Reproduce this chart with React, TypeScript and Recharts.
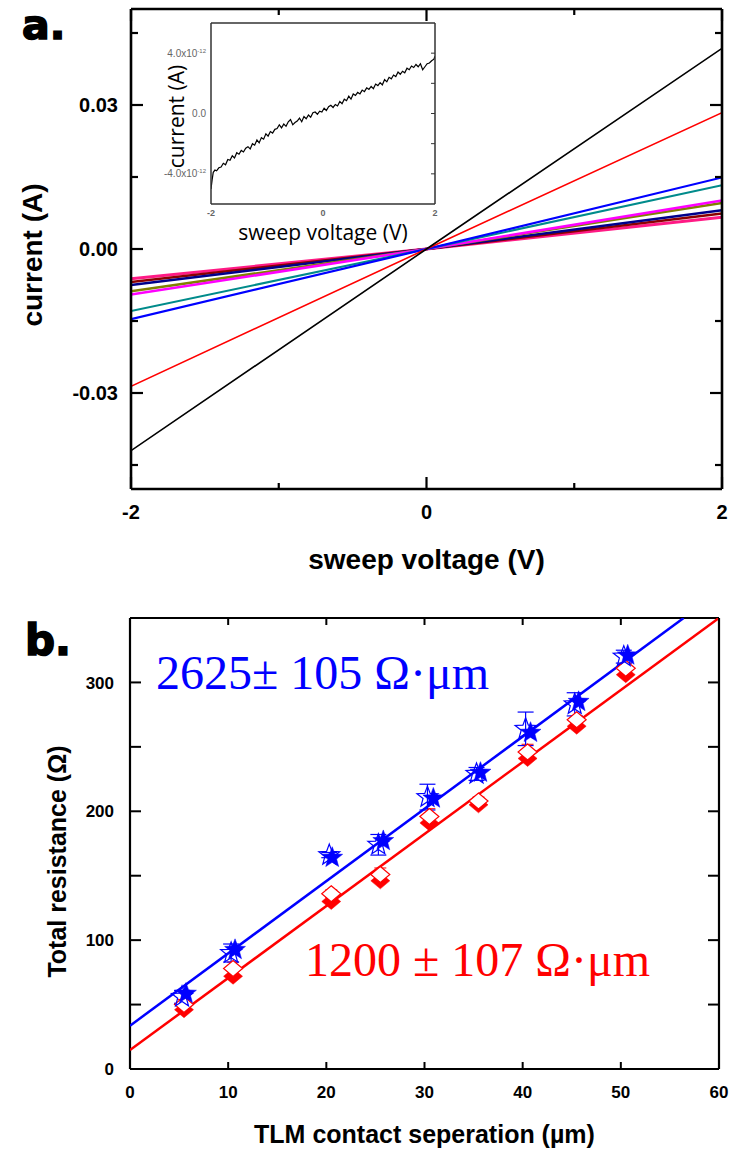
import React from "react";
import {
  LineChart,
  Line,
  XAxis,
  YAxis,
  CartesianGrid,
  ScatterChart,
  Scatter,
  ErrorBar,
  Label,
} from "recharts";

// ---------- panel a: I-V sweeps, current (A) at -2 / 0 / +2 V ----------
const sweepV = [-2, 0, 2];
const ivPink = [-0.0062, 0, 0.0066];
const ivMaroon = [-0.0069, 0, 0.0074];
const ivNavy = [-0.0075, 0, 0.0081];
const ivOlive = [-0.0088, 0, 0.0096];
const ivMagenta = [-0.0095, 0, 0.0101];
const ivTeal = [-0.0129, 0, 0.0133];
const ivBlue = [-0.0146, 0, 0.0149];
const ivRed = [-0.0286, 0, 0.0284];
const ivBlack = [-0.042, 0, 0.0418];

const ivXTicks = [-2, -1, 0, 1, 2];
const ivXLabels = [-2, 0, 2];
const ivYTicks = [-0.045, -0.03, -0.015, 0, 0.015, 0.03, 0.045];
const ivYLabels = [-0.03, 0, 0.03];

// ---------- inset: noisy low-current sweep, current in units of 1e-12 A ----------
const insetV = [
  -2.0, -1.98, -1.96, -1.93, -1.9, -1.86, -1.82, -1.78, -1.74, -1.7, -1.66, -1.62,
  -1.58, -1.54, -1.5, -1.46, -1.42, -1.38, -1.34, -1.3, -1.26, -1.22, -1.18, -1.14,
  -1.1, -1.06, -1.02, -0.98, -0.94, -0.9, -0.86, -0.82, -0.78, -0.74, -0.7, -0.66,
  -0.62, -0.58, -0.54, -0.5, -0.46, -0.42, -0.38, -0.34, -0.3, -0.26, -0.22, -0.18,
  -0.14, -0.1, -0.06, -0.02, 0.02, 0.06, 0.1, 0.14, 0.18, 0.22, 0.26, 0.3, 0.34,
  0.38, 0.42, 0.46, 0.5, 0.54, 0.58, 0.62, 0.66, 0.7, 0.74, 0.78, 0.82, 0.86, 0.9,
  0.94, 0.98, 1.02, 1.06, 1.1, 1.14, 1.18, 1.22, 1.26, 1.3, 1.34, 1.38, 1.42, 1.46,
  1.5, 1.54, 1.58, 1.62, 1.66, 1.7, 1.74, 1.78, 1.82, 1.86, 1.9, 1.94, 1.98, 2.0,
];
const insetI = [
  -5.0, -4.4, -3.9, -3.75, -3.8, -3.6, -3.55, -3.3, -3.4, -3.05, -3.1, -2.8,
  -2.95, -2.6, -2.7, -2.45, -2.55, -2.3, -2.2, -2.35, -2.0, -2.1, -1.75, -1.95,
  -1.6, -1.7, -1.35, -1.5, -1.2, -1.3, -1.05, -1.0, -0.75, -0.95, -0.7, -0.85,
  -0.55, -0.4, -0.75, -0.6, -0.5, -0.3, -0.55, -0.2, -0.35, -0.1, -0.25, 0.05,
  0.1, -0.05, 0.15, 0.1, 0.35, 0.2, 0.45, 0.55, 0.4, 0.6, 0.5, 0.8, 0.65,
  0.95, 0.85, 1.15, 0.95, 1.3, 1.2, 1.4, 1.3, 1.55, 1.45, 1.7, 1.6, 1.8, 1.65,
  1.95, 1.85, 2.05, 1.9, 2.25, 2.1, 2.4, 2.3, 2.55, 2.45, 2.75, 2.6, 2.8, 2.7,
  3.0, 2.9, 3.15, 3.05, 3.25, 3.1, 3.3, 2.9, 3.1, 3.3, 3.35, 3.5, 3.6, 3.8,
];
const insetXTicks = [-2, 0, 2];
const insetYTicks = [-4, -2, 0, 2, 4];
const insetYLabels = [-4, 0, 4];

// ---------- panel b: TLM total resistance (ohm) vs contact separation (um) ----------
const starHollowX = [5.3, 10.3, 20.3, 25.3, 30.3, 35.3, 40.3, 45.3, 50.3];
const starHollowR = [56, 90, 166, 174, 211, 229, 264, 283, 320];
const starHollowErr = [5, 7, 2, 8, 10, 5, 13, 9, 5];
const starFilledX = [5.7, 10.7, 20.6, 25.8, 30.9, 35.7, 40.8, 45.7, 50.7];
const starFilledR = [58.5, 92.5, 164, 177, 210, 230, 261, 285, 321];

const diamondX = [5.5, 10.5, 20.5, 25.5, 30.5, 35.5, 40.5, 45.5, 50.5];
const diamondFilledR = [46, 72, 130, 146, 191, 205, 241, 266, 306];
const diamondHollowR = [50, 78, 136, 151, 196, 208, 246, 271, 311];
const diamondHollowErr = [4, 5, 3, 5, 6, 3, 6, 3, 4];

const blueFitX = [0, 56.4];
const blueFitR = [33.6, 350];
const redFitX = [0, 60];
const redFitR = [14.7, 350];

const tlmXTicks = [0, 10, 20, 30, 40, 50, 60];
const tlmYTicks = [0, 50, 100, 150, 200, 250, 300];
const tlmYLabels = [0, 100, 200, 300];

const ivSeries = [
  { key: "pink", values: ivPink, color: "#ff1a85", width: 3 },
  { key: "maroon", values: ivMaroon, color: "#8b0000", width: 2.5 },
  { key: "navy", values: ivNavy, color: "#00008b", width: 2.5 },
  { key: "olive", values: ivOlive, color: "#808000", width: 2.5 },
  { key: "magenta", values: ivMagenta, color: "#ff00ff", width: 2.5 },
  { key: "teal", values: ivTeal, color: "#008b8b", width: 2 },
  { key: "blue", values: ivBlue, color: "#0000ff", width: 2.2 },
  { key: "red", values: ivRed, color: "#ff0000", width: 1.6 },
  { key: "black", values: ivBlack, color: "#000000", width: 1.6 },
];

const ivRows = sweepV.map((v, i) => {
  const row: Record<string, number> = { v };
  ivSeries.forEach((s) => (row[s.key] = s.values[i]));
  return row;
});
const insetRows = insetV.map((v, i) => ({ v, i: insetI[i] }));
const toPoints = (xs: number[], ys: number[], errs?: number[]) =>
  xs.map((x, i) => ({ x, y: ys[i], err: errs ? errs[i] : 0 }));

const SANS = "'Liberation Sans', Arial, sans-serif";
const SERIF = "'Liberation Serif', 'Times New Roman', serif";

type Side = "left" | "right" | "top" | "bottom";

interface EdgeTickProps {
  x?: number;
  y?: number;
  payload?: { value: number };
  side: Side;
  majors: number[];
  labels?: number[];
  long: number;
  short: number;
  gap?: number;
  labelSize?: number;
  labelWeight?: string | number;
  labelFont?: string;
  labelFill?: string;
  markColor?: string;
  markWidth?: number;
  format?: (v: number) => React.ReactNode;
}

// tick marks pointing into the plot, labels outside
function EdgeTick({
  x = 0,
  y = 0,
  payload,
  side,
  majors,
  labels = [],
  long,
  short,
  gap = 8,
  labelSize = 18,
  labelWeight = "bold",
  labelFont = SANS,
  labelFill = "#000",
  markColor = "#000",
  markWidth = 2,
  format,
}: EdgeTickProps) {
  const v = payload ? payload.value : 0;
  const inList = (list: number[]) => list.some((m) => Math.abs(m - v) < 1e-9);
  const len = inList(majors) ? long : short;
  const showLabel = format && inList(labels);

  let x2 = x;
  let y2 = y;
  if (side === "bottom") y2 = y - len;
  if (side === "top") y2 = y + len;
  if (side === "left") x2 = x + len;
  if (side === "right") x2 = x - len;

  let label = null;
  if (showLabel && side === "bottom") {
    label = (
      <text x={x} y={y + gap} textAnchor="middle" fontSize={labelSize} fontWeight={labelWeight} fontFamily={labelFont} fill={labelFill} stroke="none">
        {format!(v)}
      </text>
    );
  }
  if (showLabel && side === "left") {
    label = (
      <text x={x - gap} y={y + labelSize * 0.36} textAnchor="end" fontSize={labelSize} fontWeight={labelWeight} fontFamily={labelFont} fill={labelFill} stroke="none">
        {format!(v)}
      </text>
    );
  }

  return (
    <g>
      {len > 0 && <line x1={x} y1={y} x2={x2} y2={y2} stroke={markColor} strokeWidth={markWidth} />}
      {label}
    </g>
  );
}

function StarMark({ cx = 0, cy = 0, filled }: { cx?: number; cy?: number; filled: boolean }) {
  const pts: string[] = [];
  for (let k = 0; k < 10; k++) {
    const r = k % 2 === 0 ? 11 : 4.6;
    const a = -Math.PI / 2 + (k * Math.PI) / 5;
    pts.push(`${cx + r * Math.cos(a)},${cy + r * Math.sin(a)}`);
  }
  return (
    <polygon
      points={pts.join(" ")}
      fill={filled ? "#0000ff" : "none"}
      stroke="#0000ff"
      strokeWidth={filled ? 0.5 : 1.2}
    />
  );
}

function DiamondMark({ cx = 0, cy = 0, filled }: { cx?: number; cy?: number; filled: boolean }) {
  const w = 9.5;
  const h = 8;
  return (
    <polygon
      points={`${cx},${cy - h} ${cx + w},${cy} ${cx},${cy + h} ${cx - w},${cy}`}
      fill={filled ? "#ff0000" : "#ffffff"}
      stroke="#ff0000"
      strokeWidth={filled ? 0.5 : 1.2}
    />
  );
}

function IVPanel() {
  const frame = { stroke: "#000", strokeWidth: 2.6 };
  const fmtX = (v: number) => String(v);
  const fmtY = (v: number) => v.toFixed(2);
  return (
    <LineChart width={730} height={600} data={ivRows} margin={{ top: 0, right: 0, bottom: 0, left: 0 }}>
      <XAxis
        xAxisId="top"
        orientation="top"
        type="number"
        dataKey="v"
        domain={[-2, 2]}
        allowDataOverflow
        ticks={ivXTicks}
        interval={0}
        height={9}
        tickSize={0}
        tickMargin={0}
        axisLine={frame}
        tickLine={false}
        tick={(p: any) => <EdgeTick {...p} side="top" majors={ivXLabels} long={12} short={6} markWidth={2.2} />}
      />
      <XAxis
        type="number"
        dataKey="v"
        domain={[-2, 2]}
        allowDataOverflow
        ticks={ivXTicks}
        interval={0}
        height={111}
        tickSize={0}
        tickMargin={0}
        axisLine={frame}
        tickLine={false}
        tick={(p: any) => (
          <EdgeTick
            {...p}
            side="bottom"
            majors={ivXLabels}
            labels={ivXLabels}
            long={12}
            short={6}
            markWidth={2.2}
            gap={30}
            labelSize={20}
            format={fmtX}
          />
        )}
      >
        <Label value="sweep voltage (V)" position="center" dy={15} fontSize={28} fontWeight="bold" fontFamily={SANS} fill="#000" />
      </XAxis>
      <YAxis
        type="number"
        domain={[-0.05, 0.05]}
        allowDataOverflow
        ticks={ivYTicks}
        interval={0}
        width={131}
        tickSize={0}
        tickMargin={0}
        axisLine={frame}
        tickLine={false}
        tick={(p: any) => (
          <EdgeTick
            {...p}
            side="left"
            majors={ivYLabels}
            labels={ivYLabels}
            long={12}
            short={7}
            markWidth={2.2}
            gap={13}
            labelSize={20}
            format={fmtY}
          />
        )}
      >
        <Label value="current (A)" angle={-90} position="center" dx={-33} dy={6} fontSize={28} fontWeight="bold" fontFamily={SANS} fill="#000" />
      </YAxis>
      <YAxis
        yAxisId="right"
        orientation="right"
        type="number"
        domain={[-0.05, 0.05]}
        allowDataOverflow
        ticks={ivYTicks}
        interval={0}
        width={8}
        tickSize={0}
        tickMargin={0}
        axisLine={frame}
        tickLine={false}
        tick={(p: any) => <EdgeTick {...p} side="right" majors={ivYLabels} long={12} short={7} markWidth={2.2} />}
      />
      {ivSeries.map((s) => (
        <Line
          key={s.key}
          type="linear"
          dataKey={s.key}
          stroke={s.color}
          strokeWidth={s.width}
          dot={false}
          activeDot={false}
          isAnimationActive={false}
        />
      ))}
    </LineChart>
  );
}

function InsetPanel() {
  const frame = { stroke: "#333", strokeWidth: 1.5 };
  const fmtY = (v: number): React.ReactNode =>
    v === 0 ? (
      "0.0"
    ) : (
      <>
        {v.toFixed(1)}x10
        <tspan dy={-4} fontSize={6}>
          -12
        </tspan>
      </>
    );
  return (
    <LineChart width={300} height={252} data={insetRows} margin={{ top: 18, right: 0, bottom: 0, left: 0 }}>
      <CartesianGrid horizontal={false} vertical={false} fill="#ffffff" />
      <XAxis
        xAxisId="top"
        orientation="top"
        type="number"
        dataKey="v"
        domain={[-2, 2]}
        allowDataOverflow
        height={5}
        tick={false}
        tickLine={false}
        axisLine={frame}
      />
      <XAxis
        type="number"
        dataKey="v"
        domain={[-2, 2]}
        allowDataOverflow
        ticks={insetXTicks}
        interval={0}
        height={48}
        tickSize={0}
        tickMargin={0}
        axisLine={frame}
        tickLine={false}
        tick={(p: any) => (
          <EdgeTick
            {...p}
            side="bottom"
            majors={[]}
            labels={insetXTicks}
            long={0}
            short={0}
            gap={12}
            labelSize={9}
            labelFill="#666"
            format={(v) => String(v)}
          />
        )}
      >
        <Label value="sweep voltage (V)" position="center" dy={5} fontSize={21} fontFamily="'Open Sans', sans-serif" fill="#000" />
      </XAxis>
      <YAxis
        type="number"
        domain={[-6, 6]}
        allowDataOverflow
        ticks={insetYTicks}
        interval={0}
        width={61}
        tickSize={0}
        tickMargin={0}
        axisLine={frame}
        tickLine={false}
        tick={(p: any) => (
          <EdgeTick
            {...p}
            side="left"
            majors={[]}
            labels={insetYLabels}
            long={0}
            short={0}
            gap={5}
            labelSize={10}
            labelWeight="normal"
            labelFill="#666"
            format={fmtY}
          />
        )}
      >
        <Label value="current (A)" angle={-90} position="center" dx={-4} dy={3} fontSize={21} fontFamily="'Open Sans', sans-serif" fill="#000" />
      </YAxis>
      <YAxis
        yAxisId="right"
        orientation="right"
        type="number"
        domain={[-6, 6]}
        allowDataOverflow
        ticks={insetYTicks}
        interval={0}
        width={15}
        tickSize={0}
        tickMargin={0}
        axisLine={frame}
        tickLine={false}
        tick={(p: any) => <EdgeTick {...p} side="right" majors={insetYTicks} long={4} short={4} markColor="#333" markWidth={1} />}
      />
      <Line type="linear" dataKey="i" stroke="#000" strokeWidth={1.2} dot={false} activeDot={false} isAnimationActive={false} />
    </LineChart>
  );
}

function TLMPanel() {
  const frame = { stroke: "#000", strokeWidth: 2.2 };
  return (
    <ScatterChart width={730} height={551} margin={{ top: 0, right: 0, bottom: 0, left: 0 }}>
      <XAxis
        xAxisId="top"
        orientation="top"
        type="number"
        dataKey="x"
        domain={[0, 60]}
        allowDataOverflow
        ticks={tlmXTicks}
        interval={0}
        height={18}
        tickSize={0}
        tickMargin={0}
        axisLine={frame}
        tickLine={false}
        tick={(p: any) => <EdgeTick {...p} side="top" majors={tlmXTicks} long={7} short={7} />}
      />
      <XAxis
        type="number"
        dataKey="x"
        domain={[0, 60]}
        allowDataOverflow
        ticks={tlmXTicks}
        interval={0}
        height={82}
        tickSize={0}
        tickMargin={0}
        axisLine={frame}
        tickLine={false}
        tick={(p: any) => (
          <EdgeTick
            {...p}
            side="bottom"
            majors={tlmXTicks}
            labels={tlmXTicks}
            long={7}
            short={7}
            gap={29}
            labelSize={17}
            format={(v) => String(v)}
          />
        )}
      >
        <Label value="TLM contact seperation (µm)" position="center" dy={24} fontSize={25} fontWeight="bold" fontFamily={SANS} fill="#000" />
      </XAxis>
      <YAxis
        type="number"
        dataKey="y"
        domain={[0, 350]}
        allowDataOverflow
        ticks={tlmYTicks}
        interval={0}
        width={130}
        tickSize={0}
        tickMargin={0}
        axisLine={frame}
        tickLine={false}
        tick={(p: any) => (
          <EdgeTick
            {...p}
            side="left"
            majors={tlmYTicks}
            labels={tlmYLabels}
            long={11}
            short={11}
            gap={16}
            labelSize={17}
            format={(v) => String(v)}
          />
        )}
      >
        <Label value="Total resistance (Ω)" angle={-90} position="center" dx={-8} dy={18} fontSize={25} fontWeight="bold" fontFamily={SANS} fill="#000" />
      </YAxis>
      <YAxis
        yAxisId="right"
        orientation="right"
        type="number"
        dataKey="y"
        domain={[0, 350]}
        allowDataOverflow
        ticks={tlmYTicks}
        interval={0}
        width={11}
        tickSize={0}
        tickMargin={0}
        axisLine={frame}
        tickLine={false}
        tick={(p: any) => <EdgeTick {...p} side="right" majors={tlmYTicks} long={11} short={11} />}
      />
      <Scatter
        data={toPoints(blueFitX, blueFitR)}
        line={{ stroke: "#0000ff", strokeWidth: 2.5 }}
        shape={() => <g />}
        isAnimationActive={false}
      />
      <Scatter
        data={toPoints(redFitX, redFitR)}
        line={{ stroke: "#ff0000", strokeWidth: 2.5 }}
        shape={() => <g />}
        isAnimationActive={false}
      />
      <Scatter
        data={toPoints(diamondX, diamondFilledR)}
        shape={(p: any) => <DiamondMark cx={p.cx} cy={p.cy} filled />}
        isAnimationActive={false}
      />
      <Scatter
        data={toPoints(diamondX, diamondHollowR, diamondHollowErr)}
        shape={(p: any) => <DiamondMark cx={p.cx} cy={p.cy} filled={false} />}
        isAnimationActive={false}
      >
        <ErrorBar dataKey="err" direction="y" width={6} stroke="#ff0000" strokeWidth={1} />
      </Scatter>
      <Scatter
        data={toPoints(starHollowX, starHollowR, starHollowErr)}
        shape={(p: any) => <StarMark cx={p.cx} cy={p.cy} filled={false} />}
        isAnimationActive={false}
      >
        <ErrorBar dataKey="err" direction="y" width={8} stroke="#0000ff" strokeWidth={1.2} />
      </Scatter>
      <Scatter
        data={toPoints(starFilledX, starFilledR)}
        shape={(p: any) => <StarMark cx={p.cx} cy={p.cy} filled />}
        isAnimationActive={false}
      />
    </ScatterChart>
  );
}

export default function App() {
  return (
    <div
      style={{
        position: "absolute",
        left: 0,
        top: 0,
        width: 730,
        height: 1151,
        background: "#fff",
        overflow: "hidden",
      }}
    >
      <div style={{ position: "absolute", left: 0, top: 0 }}>
        <IVPanel />
      </div>
      <div style={{ position: "absolute", left: 150, top: 0 }}>
        <InsetPanel />
      </div>
      <div style={{ position: "absolute", left: 0, top: 600 }}>
        <TLMPanel />
      </div>
      <svg
        width={730}
        height={1151}
        style={{ position: "absolute", left: 0, top: 0, pointerEvents: "none" }}
      >
        <text x={22} y={39} fontFamily="'DejaVu Sans', sans-serif" fontWeight="bold" fontSize={41} fill="#000" stroke="#000" strokeWidth={1.6}>
          a.
        </text>
        <text x={25} y={655} fontFamily="'DejaVu Sans', sans-serif" fontWeight="bold" fontSize={42} fill="#000" stroke="#000" strokeWidth={1.6}>
          b.
        </text>
        <text x={156} y={689} fontFamily={SERIF} fontSize={48} fill="#0000ff">
          2625± 105 Ω·μm
        </text>
        <text x={305} y={976} fontFamily={SERIF} fontSize={48} fill="#ff0000">
          1200 ± 107 Ω·μm
        </text>
      </svg>
    </div>
  );
}
